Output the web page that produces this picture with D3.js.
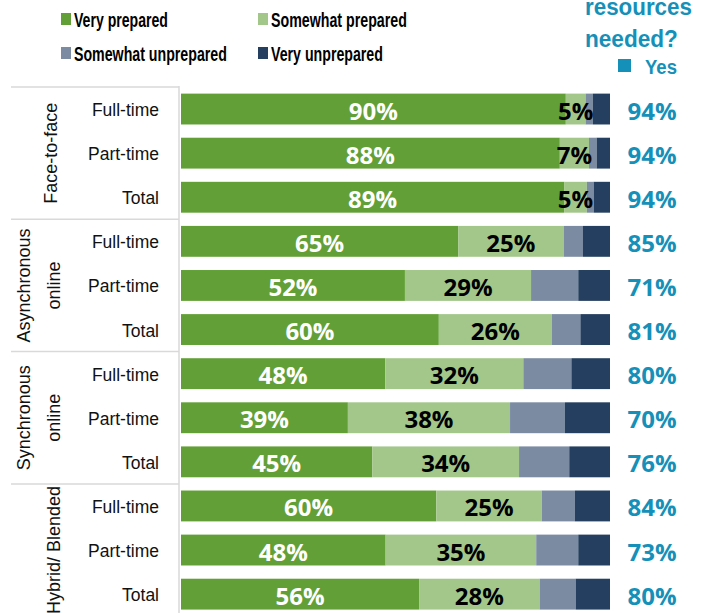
<!DOCTYPE html>
<html><head><meta charset="utf-8">
<script src="https://cdn.jsdelivr.net/npm/d3@7"></script>
<style>html,body{margin:0;padding:0;background:#fff;overflow:hidden}</style>
</head><body>
<svg id="chart" width="707" height="613"></svg>
<script>
// ---- data ----
const groups = ["Face-to-face", "Asynchronous online", "Synchronous online", "Hybrid/ Blended"];
const subCategories = ["Full-time", "Part-time", "Total"];
const veryPrepared       = [89.7, 88.3, 89.3, 64.6, 52.2, 60.1, 47.6, 38.9, 44.6, 59.5, 47.7, 55.5];
const somewhatPrepared   = [4.6, 6.8, 5.3, 24.6, 29.4, 26.3, 32.2, 37.8, 34.2, 24.6, 35.1, 28.1];
const somewhatUnprepared = [1.7, 1.8, 1.6, 4.5, 11.0, 6.7, 11.2, 12.8, 11.7, 7.7, 9.8, 8.4];
const veryUnprepared     = [4.0, 3.1, 3.8, 6.3, 7.4, 6.9, 9.0, 10.5, 9.5, 8.2, 7.4, 8.0];
const resourcesYes       = [94, 94, 94, 85, 71, 81, 80, 70, 76, 84, 73, 80];
const seriesNames = ["Very prepared", "Somewhat prepared", "Somewhat unprepared", "Very unprepared"];
const colors = ["#62a037", "#a3c78a", "#7a8ba2", "#243f5f"];
const teal = "#1590b9";

// ---- build rows ----
const rows = [];
groups.forEach((g, gi) => subCategories.forEach((s, si) => {
  const i = gi * 3 + si;
  rows.push({id: i, group: g, sub: s,
    "Very prepared": veryPrepared[i], "Somewhat prepared": somewhatPrepared[i],
    "Somewhat unprepared": somewhatUnprepared[i], "Very unprepared": veryUnprepared[i],
    yes: resourcesYes[i]});
}));

const svg = d3.select("#chart");
const x = d3.scaleLinear().domain([0, 100]).range([181, 610]);
const y = d3.scaleBand().domain(rows.map(d => d.id)).range([87, 616.2]).paddingInner(0.3).paddingOuter(0.15);
const step = y.step();

const stack = d3.stack().keys(seriesNames)(rows);

// separators
const sepColor = "#d9d9d9";
groups.forEach((g, gi) => {
  const yy = y(gi * 3) - (step - y.bandwidth()) / 2;
  svg.append("line").attr("x1", 11).attr("x2", 179).attr("y1", yy).attr("y2", yy)
    .attr("stroke", sepColor).attr("stroke-width", 1.5);
});
svg.append("line").attr("x1", 179).attr("x2", 179).attr("y1", 86).attr("y2", 613)
  .attr("stroke", sepColor).attr("stroke-width", 1.5);

// bars
stack.forEach((layer, li) => {
  svg.append("g").attr("fill", colors[li]).selectAll("rect").data(layer).join("rect")
    .attr("x", d => x(d[0])).attr("width", d => x(d[1]) - x(d[0]))
    .attr("y", d => y(d.data.id)).attr("height", y.bandwidth());
});

// value labels
const numFont = "'Open Sans', 'DejaVu Sans', sans-serif";
[0, 1].forEach(li => {
  svg.append("g").selectAll("text").data(stack[li]).join("text")
    .attr("x", d => (x(d[0]) + x(d[1])) / 2)
    .attr("y", d => y(d.data.id) + y.bandwidth() / 2 + 1)
    .attr("text-anchor", "middle").attr("dominant-baseline", "central")
    .attr("font-family", numFont).attr("font-weight", 700).attr("font-size", 24)
    .attr("fill", li === 0 ? "#ffffff" : "#000000")
    .text(d => Math.round(d[1] - d[0]) + "%");
});

// yes labels
svg.append("g").selectAll("text").data(rows).join("text")
  .attr("x", 652).attr("y", d => y(d.id) + y.bandwidth() / 2 + 1)
  .attr("text-anchor", "middle").attr("dominant-baseline", "central")
  .attr("font-family", numFont).attr("font-weight", 700).attr("font-size", 24)
  .attr("fill", teal).text(d => d.yes + "%");

// sub-category labels
const labFont = "'Liberation Sans', Arial, sans-serif";
svg.append("g").selectAll("text").data(rows).join("text")
  .attr("x", 159).attr("y", d => y(d.id) + y.bandwidth() / 2 + 1)
  .attr("text-anchor", "end").attr("dominant-baseline", "central")
  .attr("font-family", labFont).attr("font-size", 17.5).attr("fill", "#111")
  .text(d => d.sub);

// group labels (rotated)
groups.forEach((g, gi) => {
  const top = y(gi * 3) - (step - y.bandwidth()) / 2;
  const cy = top + step * 1.5;
  const words = g === "Asynchronous online" ? ["Asynchronous", "online"]
              : g === "Synchronous online" ? ["Synchronous", "online"] : [g];
  if (words.length === 2) {
    [29.5, 59.5].forEach((bx, wi) => {
      svg.append("text").attr("transform", `translate(${bx},${cy}) rotate(-90)`)
        .attr("text-anchor", "middle").attr("font-family", labFont).attr("font-size", 18)
        .attr("fill", "#111").text(words[wi]);
    });
  } else if (gi === groups.length - 1) {
    svg.append("text").attr("transform", `translate(59.5,${top + 2}) rotate(-90)`)
      .attr("text-anchor", "end").attr("font-family", labFont).attr("font-size", 18)
      .attr("fill", "#111").text(g);
  } else {
    svg.append("text").attr("transform", `translate(57,${cy}) rotate(-90)`)
      .attr("text-anchor", "middle").attr("font-family", labFont).attr("font-size", 18)
      .attr("fill", "#111").text(g);
  }
});

// helper: horizontally squeeze a text to a target width
function squeeze(sel, px, py, targetW) {
  const w = sel.node().getComputedTextLength();
  const sx = w > 0 ? targetW / w : 1;
  sel.attr("x", 0).attr("y", 0).attr("transform", `translate(${px},${py}) scale(${sx},1)`);
}

// legend
const legFont = "'Liberation Sans', Arial, sans-serif";
const legPos = [[61, 27, 94], [258, 27, 136], [61, 61, 153], [258, 61, 112]];
seriesNames.forEach((s, i) => {
  const [lx, ly, tl] = legPos[i];
  svg.append("rect").attr("x", lx).attr("y", ly - 14).attr("width", 10).attr("height", 12).attr("fill", colors[i]);
  const t = svg.append("text")
    .attr("font-family", legFont).attr("font-weight", 700).attr("font-size", 21).attr("fill", "#000").text(s);
  squeeze(t, lx + 13, ly, tl);
});

// right header
const hdrFont = "'Liberation Sans', Arial, sans-serif";
const h1 = svg.append("text").attr("font-family", hdrFont).attr("font-weight", 700).attr("font-size", 24).attr("fill", teal).text("resources");
squeeze(h1, 585, 15, 107);
const h2 = svg.append("text").attr("font-family", hdrFont).attr("font-weight", 700).attr("font-size", 24).attr("fill", teal).text("needed?");
squeeze(h2, 585, 46.5, 93);
svg.append("rect").attr("x", 618).attr("y", 59).attr("width", 13).attr("height", 13).attr("fill", teal);
const h3 = svg.append("text").attr("font-family", hdrFont).attr("font-weight", 700).attr("font-size", 20).attr("fill", teal).text("Yes");
squeeze(h3, 645, 74, 32);
</script>
</body></html>
